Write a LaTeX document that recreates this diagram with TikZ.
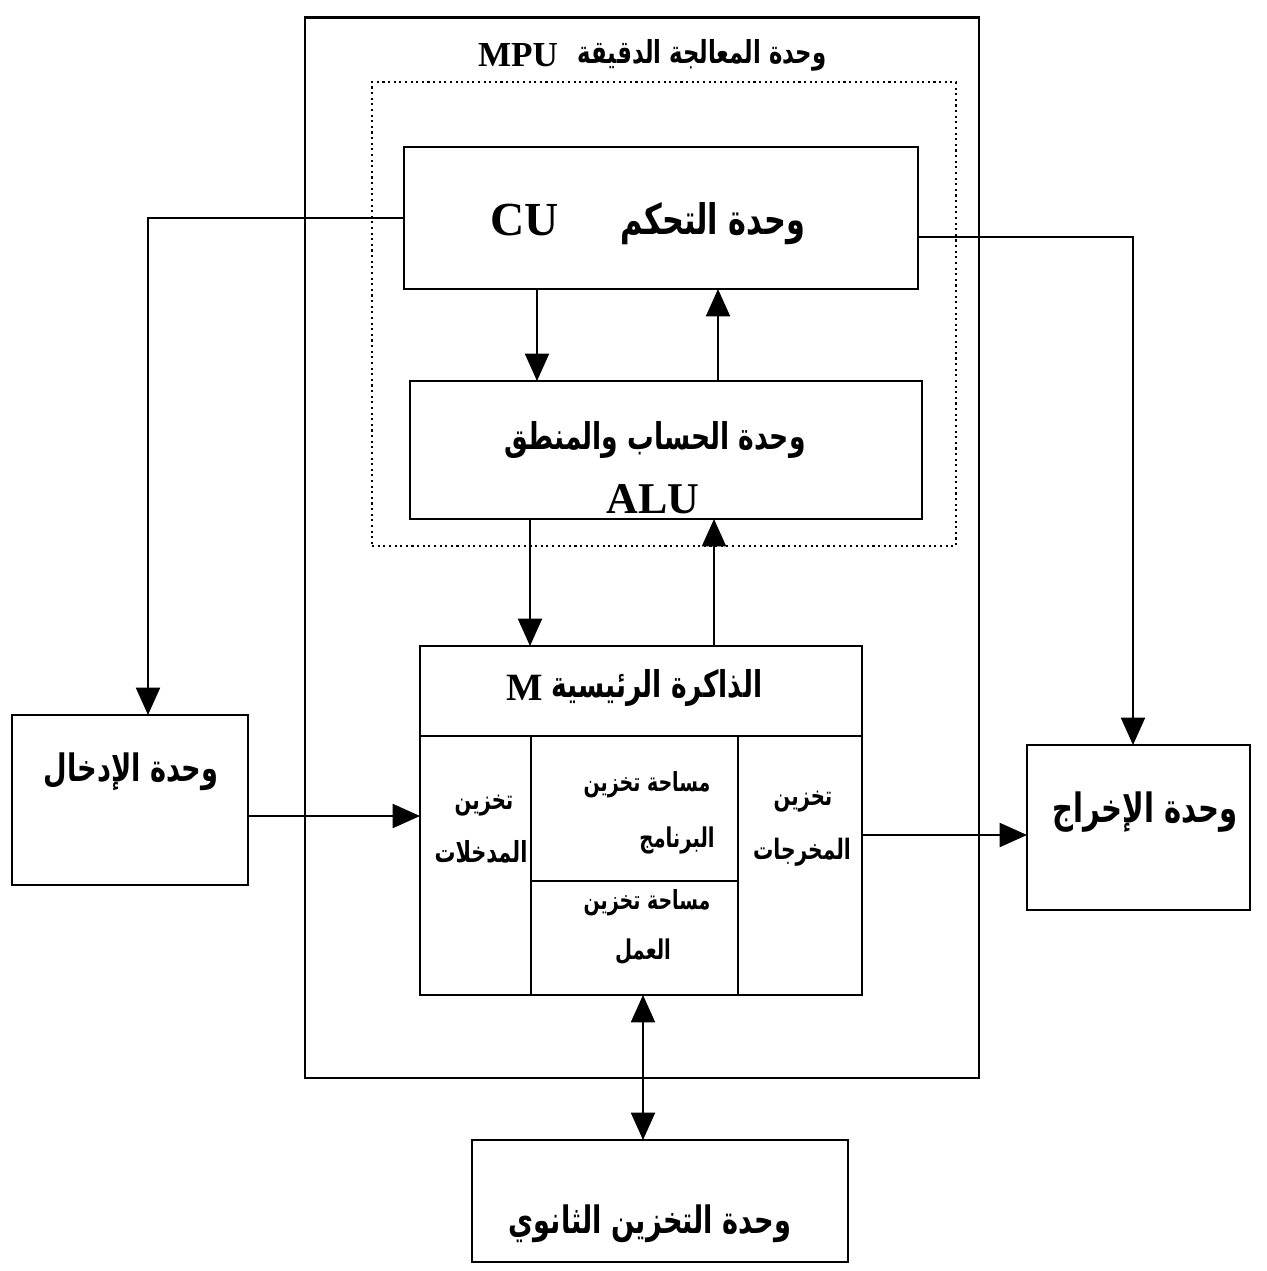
\documentclass[tikz,border=0pt]{standalone}
\usepackage{fontspec}
\setmainfont{Liberation Serif}
\newfontfamily\arabicfont[Script=Arabic,FakeStretch=0.72]{DejaVu Sans}
\TeXXeTstate=1
\usetikzlibrary{arrows.meta,calc}
\newcommand{\fs}[1]{\fontsize{#1}{#1}\selectfont}
\begin{document}
\begin{tikzpicture}[x=0.02cm,y=-0.02cm,
  box/.style={draw, line width=1.6pt, inner sep=0pt, outer sep=0pt},
  lbl/.style={inner sep=0pt, outer sep=0pt, align=center, font=\arabicfont\bfseries},
  latin/.style={inner sep=0pt, outer sep=0pt, font=\bfseries},
  arr/.style={line width=1.4pt, -{Triangle[length=0.55cm,width=0.48cm]}},
  arrtwo/.style={line width=1.4pt, {Triangle[length=0.55cm,width=0.48cm]}-{Triangle[length=0.55cm,width=0.48cm]}},
  part/.style={line width=1.5pt}]
\useasboundingbox (0,0) rectangle (1267,1271);
% boxes
\node[box, minimum width=13.48cm, minimum height=21.22cm] (mpu) at (642,547.5) {};
\node[draw, dotted, line width=1.2pt, inner sep=0pt, outer sep=0pt, minimum width=11.68cm, minimum height=9.28cm] (dot) at (664,314) {};
\node[box, minimum width=10.28cm, minimum height=2.84cm] (cu) at (661,218) {};
\node[box, minimum width=10.24cm, minimum height=2.76cm] (alu) at (666,450) {};
\node[box, minimum width=8.84cm, minimum height=6.98cm] (mem) at (641,820.5) {};
\node[box, minimum width=4.72cm, minimum height=3.4cm] (in) at (130,800) {};
\node[box, minimum width=4.46cm, minimum height=3.3cm] (out) at (1138.5,827.5) {};
\node[box, minimum width=7.52cm, minimum height=2.44cm] (sec) at (660,1201) {};
% memory partitions
\coordinate (hdr) at (0,736);
\coordinate (cA) at (531,0);
\coordinate (cB) at (738,0);
\coordinate (mid) at (0,881);
\draw[part] (mem.west |- hdr) -- (mem.east |- hdr);
\draw[part] (cA |- hdr) -- (cA |- mem.south);
\draw[part] (cB |- hdr) -- (cB |- mem.south);
\draw[part] (cA |- mid) -- (cB |- mid);
% texts
\node[latin] (titleL) at (518,55) {\fs{20pt}MPU};
\node[lbl] (titleA) at (702,55) {\fs{18pt}\beginR وحدة المعالجة الدقيقة\endR};
\node[latin] (cuL) at (525,220) {\fs{27pt}CU};
\node[lbl] (cuA) at (713,224) {\fs{24pt}\beginR وحدة التحكم\endR};
\node[lbl] (aluA) at (655,440) {\fs{21pt}\beginR وحدة الحساب والمنطق\endR};
\node[latin] (aluL) at (653,499) {\fs{25pt}ALU};
\node[latin] (memL) at (525,688) {\fs{22pt}M};
\node[lbl] (memA) at (657,688) {\fs{21pt}\beginR الذاكرة الرئيسية\endR};
\node[lbl] (inA) at (484,806) {\fs{15.5pt}\beginR تخزين\endR};
\node[lbl] (inB) at (481,852) {\fs{16.5pt}\beginR المدخلات\endR};
\node[lbl] (prA) at (647,785) {\fs{15pt}\beginR مساحة تخزين\endR};
\node[lbl] (prB) at (677,840) {\fs{15.5pt}\beginR البرنامج\endR};
\node[lbl] (wkA) at (647,903) {\fs{15pt}\beginR مساحة تخزين\endR};
\node[lbl] (wkB) at (643,952) {\fs{15.5pt}\beginR العمل\endR};
\node[lbl] (ouA) at (803,802) {\fs{15.5pt}\beginR تخزين\endR};
\node[lbl] (ouB) at (802,852) {\fs{16pt}\beginR المخرجات\endR};
\node[lbl] (inT) at (131,772) {\fs{21.5pt}\beginR وحدة الإدخال\endR};
\node[lbl] (outT) at (1145,812) {\fs{23pt}\beginR وحدة الإخراج\endR};
\node[lbl] (secT) at (650,1224) {\fs{21.5pt}\beginR وحدة التخزين الثانوي\endR};
% connector helper coordinates
\coordinate (x537) at (537,0);
\coordinate (x718) at (718,0);
\coordinate (x530) at (530,0);
\coordinate (x714) at (714,0);
\coordinate (x148) at (148,0);
\coordinate (x1133) at (1133,0);
\coordinate (x643) at (643,0);
\coordinate (y237) at (0,237);
\coordinate (y816) at (0,816);
\coordinate (y835) at (0,835);
% connectors
\draw[arr] (cu.south -| x537) -- (alu.north -| x537);
\draw[arr] (alu.north -| x718) -- (cu.south -| x718);
\draw[arr] (alu.south -| x530) -- (mem.north -| x530);
\draw[arr] (mem.north -| x714) -- (alu.south -| x714);
\draw[arr] (cu.west) -| (in.north -| x148);
\draw[arr] (cu.east |- y237) -| (out.north -| x1133);
\draw[arr] (in.east |- y816) -- (mem.west |- y816);
\draw[arr] (mem.east |- y835) -- (out.west |- y835);
\draw[arrtwo] (mem.south -| x643) -- (sec.north -| x643);
\end{tikzpicture}
\end{document}
